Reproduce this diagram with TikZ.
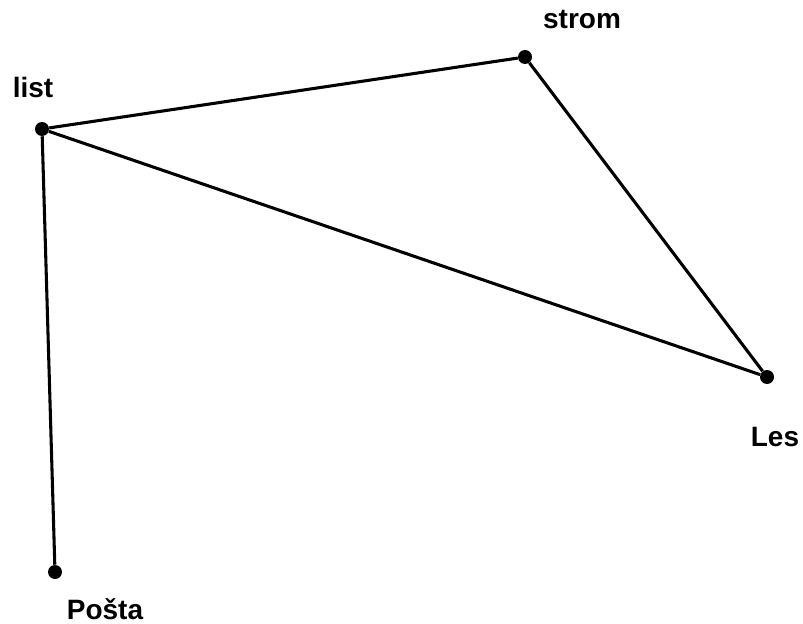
\documentclass[tikz,border=0pt]{standalone}
\usepackage{fontspec}
\setmainfont{Liberation Sans}
\usepackage{tikz}
\usetikzlibrary{positioning}

\begin{document}
\begin{tikzpicture}[x=0.75pt,y=-0.75pt, every node/.style={font=\fontsize{21}{24}\selectfont\bfseries}]
\useasboundingbox (0,0) rectangle (803,624);
\tikzset{vertex/.style={circle,fill=black,inner sep=0pt,minimum size=10.5pt}}
\node[vertex] (list) at (42,129) {};
\node[vertex] (strom) at (525,57) {};
\node[vertex] (les) at (767,377) {};
\node[vertex] (posta) at (55,572) {};
\node (listlab) at (33,87) {list};
\node (stromlab) at (582,20) {strom};
\node (leslab) at (775,437) {Les};
\node (postalab) at (105,609) {Pošta};
\draw[line width=2.3pt] (list) -- (strom);
\draw[line width=2.3pt] (strom) -- (les);
\draw[line width=2.3pt] (list) -- (les);
\draw[line width=2.3pt] (list) -- (posta);
\end{tikzpicture}
\end{document}
